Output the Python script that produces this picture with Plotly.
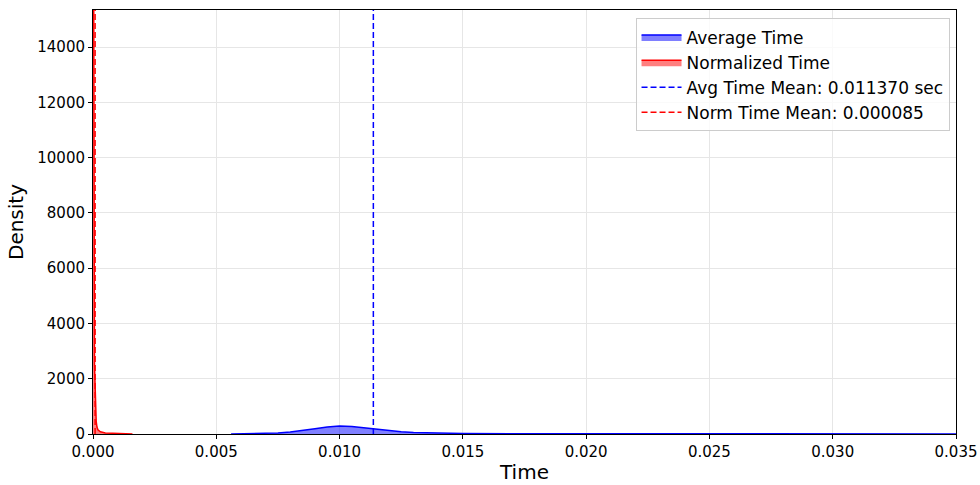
import plotly.graph_objects as go

# Data
avg_x = [0.0056, 0.0065, 0.0070, 0.0075, 0.0080, 0.0085, 0.0090, 0.0095, 0.0100, 0.0105,
         0.0110, 0.0115, 0.0120, 0.0125, 0.0130, 0.0140, 0.0150, 0.0170, 0.0200, 0.0250,
         0.0300, 0.0350]
avg_density = [0, 10, 25, 40, 70, 120, 190, 250, 285, 275,
               220, 165, 115, 80, 55, 30, 18, 10, 6, 3,
               2, 1]

norm_x = [0.0, 0.00003, 0.00006, 0.00010, 0.00013, 0.00016, 0.0002, 0.0003, 0.0005,
          0.0008, 0.0011, 0.0014, 0.0016]
norm_density = [18000, 15500, 2500, 600, 450, 250, 150, 80, 40, 25, 18, 10, 0]

avg_mean = 0.011370
norm_mean = 0.000085
y_max = 15340
x_ticks = [0.000, 0.005, 0.010, 0.015, 0.020, 0.025, 0.030, 0.035]
y_ticks = [0, 2000, 4000, 6000, 8000, 10000, 12000, 14000]

fig = go.Figure()
fig.add_trace(go.Scatter(x=avg_x, y=avg_density, mode="lines", fill="tozeroy",
                         line=dict(color="rgb(0,0,255)", width=1.5),
                         fillcolor="rgba(0,0,255,0.5)", name="Average Time"))
fig.add_trace(go.Scatter(x=norm_x, y=norm_density, mode="lines", fill="tozeroy",
                         line=dict(color="rgb(255,0,0)", width=1.5),
                         fillcolor="rgba(255,0,0,0.5)", name="Normalized Time"))
fig.add_trace(go.Scatter(x=[avg_mean, avg_mean], y=[0, y_max], mode="lines",
                         line=dict(color="blue", width=1.5, dash="6px,3px"),
                         name=f"Avg Time Mean: {avg_mean:.6f} sec"))
fig.add_trace(go.Scatter(x=[norm_mean, norm_mean], y=[0, y_max], mode="lines",
                         line=dict(color="red", width=1.5, dash="6px,3px"),
                         name=f"Norm Time Mean: {norm_mean:.6f}"))

fig.update_layout(
    width=980, height=485,
    margin=dict(l=93, r=24, t=10, b=51),
    plot_bgcolor="white", paper_bgcolor="white",
    font=dict(family="DejaVu Sans", size=15, color="black"),
    showlegend=True,
    legend=dict(x=0.9925, y=0.98, xanchor="right", yanchor="top",
                bordercolor="#cccccc", borderwidth=1, bgcolor="rgba(255,255,255,0.8)",
                font=dict(size=17), tracegroupgap=0, itemwidth=40),
)
fig.update_xaxes(range=[0, 0.035], tickvals=x_ticks, ticktext=[f"{v:.3f}" for v in x_ticks],
                 showgrid=True, gridcolor="#e6e6e6", gridwidth=1,
                 showline=True, linecolor="black", linewidth=1, mirror=True,
                 ticks="outside", ticklen=4, tickcolor="black", automargin=False,
                 title=dict(text="Time", font=dict(size=20), standoff=4), zeroline=False)
fig.update_yaxes(range=[0, y_max], tickvals=y_ticks, ticktext=[str(v) for v in y_ticks],
                 showgrid=True, gridcolor="#e6e6e6", gridwidth=1,
                 showline=True, linecolor="black", linewidth=1, mirror=True,
                 ticks="outside", ticklen=4, tickcolor="black", automargin=False,
                 title=dict(text="Density", font=dict(size=20), standoff=8), zeroline=False)

fig.write_html("out.html")
